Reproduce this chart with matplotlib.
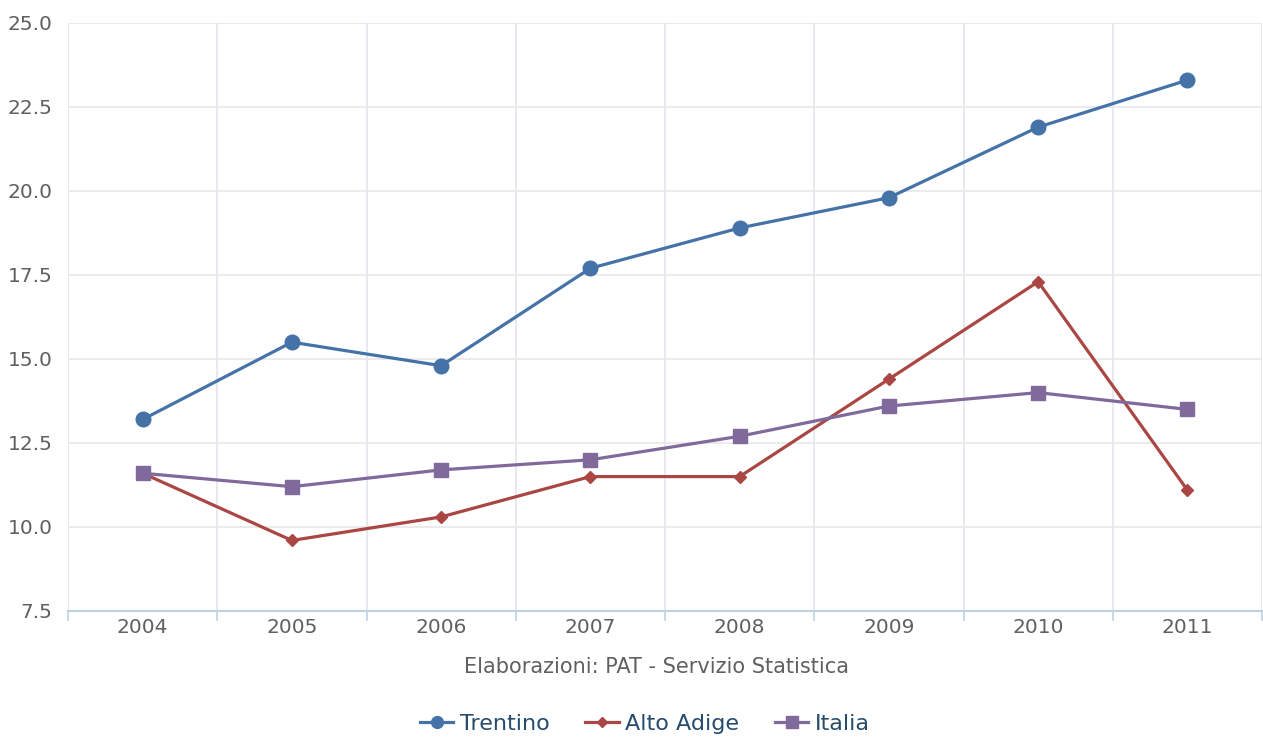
import matplotlib

matplotlib.use("Agg")
import matplotlib.pyplot as plt  # noqa: E402
from matplotlib.lines import Line2D  # noqa: E402
import numpy as np  # noqa: E402

YEARS = ["2004", "2005", "2006", "2007", "2008", "2009", "2010", "2011"]
TRENTINO = [13.2, 15.5, 14.8, 17.7, 18.9, 19.8, 21.9, 23.3]
ALTO_ADIGE = [11.6, 9.6, 10.3, 11.5, 11.5, 14.4, 17.3, 11.1]
ITALIA = [11.6, 11.2, 11.7, 12.0, 12.7, 13.6, 14.0, 13.5]
Y_TICKS = [7.5, 10.0, 12.5, 15.0, 17.5, 20.0, 22.5, 25.0]

BLUE = "#4572A7"
RED = "#AA4643"
PURPLE = "#80699B"
GRID = "#E8E8E8"
VGRID = "#E2E6EC"
AXIS = "#C0D0E0"
LABEL = "#606060"
LEGEND_INK = "#274B6D"

plt.rcParams["font.family"] = "DejaVu Sans"

W, H = 1263, 738
fig = plt.figure(figsize=(W / 100, H / 100), dpi=100)
left, right, top, bottom = 68, 1262, 23, 611
ax = fig.add_axes([left / W, 1 - bottom / H, (right - left) / W, (bottom - top) / H])

x = np.arange(len(YEARS))
ax.plot(x, TRENTINO, color=BLUE, lw=2.3, marker="o", ms=10.5, zorder=3)
ax.plot(x, ALTO_ADIGE, color=RED, lw=2.3, marker="D", ms=6.5, zorder=3)
ax.plot(x, ITALIA, color=PURPLE, lw=2.3, marker="s", ms=10, zorder=3)

ax.set_xlim(-0.5, len(YEARS) - 0.5)
ax.set_ylim(7.5, 25.0)
ax.set_yticks(Y_TICKS, [f"{v:.1f}" for v in Y_TICKS])
ax.set_xticks(x, YEARS)
ax.set_xticks(np.arange(len(YEARS) + 1) - 0.5, minor=True)

ax.grid(True, axis="y", color=GRID, lw=1.2)
ax.grid(True, axis="x", which="minor", color=VGRID, lw=1.2)
ax.set_axisbelow(True)
for side in ["top", "right", "left"]:
    ax.spines[side].set_visible(False)
ax.spines["bottom"].set_color(AXIS)
ax.spines["bottom"].set_linewidth(1.5)

ax.tick_params(axis="y", length=0, pad=11, labelsize=14.5, labelcolor=LABEL)
ax.tick_params(axis="x", which="major", length=0, pad=5, labelsize=14.5, labelcolor=LABEL)
ax.tick_params(axis="x", which="minor", length=7, width=1.2, color=AXIS)

fig.text(657 / W, 1 - 667 / H, "Elaborazioni: PAT - Servizio Statistica",
         ha="center", va="center", fontsize=15, color=LABEL)

handles = [
    Line2D([], [], color=BLUE, lw=2.3, marker="o", ms=8.5),
    Line2D([], [], color=RED, lw=2.3, marker="D", ms=5.5),
    Line2D([], [], color=PURPLE, lw=2.3, marker="s", ms=8.5),
]
fig.legend(handles, ["Trentino", "Alto Adige", "Italia"], loc="center",
           bbox_to_anchor=(645 / W, 1 - 724 / H), ncol=3, frameon=False,
           fontsize=16, labelcolor=LEGEND_INK, handlelength=1.5,
           handletextpad=0.3, columnspacing=1.6)

fig.savefig("out.png", dpi=100, facecolor="white")
